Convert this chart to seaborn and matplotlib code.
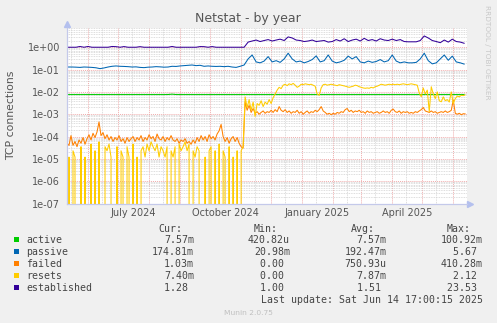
import numpy as np
import pandas as pd
import matplotlib
matplotlib.use("Agg")
import matplotlib.pyplot as plt
import matplotlib.dates as mdates
from matplotlib.ticker import LogLocator, NullFormatter, FuncFormatter
from matplotlib.patches import Rectangle
import seaborn as sns

# ---- data -------------------------------------------------------------
# smooth series sampled every 4 days, spiky series every 2 days
coarse_start = "2024-05-12"
fine_start = "2024-05-11"

active = [
    0.00757, 0.00757, 0.00757, 0.00756, 0.00757, 0.00757, 0.00758, 0.00757, 0.00757, 0.00757,
    0.00757, 0.00757, 0.00756, 0.00757, 0.00757, 0.00757, 0.00757, 0.00758, 0.00757, 0.00757,
    0.00757, 0.00757, 0.00757, 0.00757, 0.00757, 0.00762, 0.00790, 0.00760, 0.00757, 0.00757,
    0.00757, 0.00757, 0.00756, 0.00757, 0.00757, 0.00757, 0.00757, 0.00757, 0.00758, 0.00757,
    0.00757, 0.00757, 0.00757, 0.00757, 0.00757, 0.00757, 0.00757, 0.00757, 0.00757, 0.00757,
    0.00757, 0.00757, 0.00757, 0.00757, 0.00758, 0.00757, 0.00757, 0.00757, 0.00757, 0.00757,
    0.00757, 0.00757, 0.00757, 0.00757, 0.00757, 0.00757, 0.00757, 0.00756, 0.00757, 0.00757,
    0.00757, 0.00757, 0.00757, 0.00757, 0.00757, 0.00757, 0.00757, 0.00757, 0.00757, 0.00757,
    0.00757, 0.00757, 0.00757, 0.00757, 0.00757, 0.00757, 0.00757, 0.00757, 0.00757, 0.00757,
    0.00757, 0.00757, 0.00757, 0.00757, 0.00757, 0.00757, 0.00757, 0.00757, 0.00757, 0.00757,
]

passive = [
    0.13, 0.13, 0.128, 0.125, 0.13, 0.128, 0.125, 0.12, 0.11, 0.118,
    0.13, 0.14, 0.145, 0.14, 0.138, 0.135, 0.13, 0.132, 0.125, 0.122,
    0.128, 0.13, 0.135, 0.132, 0.128, 0.13, 0.14, 0.138, 0.145, 0.15,
    0.155, 0.16, 0.15, 0.155, 0.14, 0.145, 0.14, 0.138, 0.14, 0.135,
    0.14, 0.13, 0.125, 0.14, 0.16, 0.3, 0.45, 0.22, 0.2, 0.24,
    0.38, 0.22, 0.25, 0.21, 0.3, 0.54, 0.3, 0.22, 0.24, 0.2,
    0.23, 0.28, 0.41, 0.22, 0.25, 0.45, 0.24, 0.2, 0.22, 0.26,
    0.4, 0.3, 0.38, 0.22, 0.2, 0.24, 0.21, 0.23, 0.28, 0.22,
    0.25, 0.45, 0.24, 0.2, 0.22, 0.2, 0.2, 0.21, 0.3, 0.54,
    0.25, 0.18, 0.2, 0.3, 0.45, 0.26, 0.4, 0.22, 0.2, 0.175,
]

established = [
    1.0, 1.0, 1.0, 1.08, 1.0, 1.08, 1.0, 1.0, 1.0, 1.0,
    1.0, 1.08, 1.06, 1.0, 1.07, 1.0, 1.0, 1.0, 1.06, 1.0,
    1.0, 1.0, 1.0, 1.0, 1.0, 1.0, 1.08, 1.0, 1.0, 1.0,
    1.0, 1.0, 1.0, 1.07, 1.06, 1.0, 1.07, 1.0, 1.0, 1.0,
    1.0, 1.0, 1.0, 1.0, 1.0, 1.7, 1.9, 2.1, 1.8, 2.0,
    2.2, 1.9, 2.1, 2.3, 2.0, 2.9, 2.6, 2.1, 2.0, 1.8,
    1.9, 2.1, 1.8, 1.9, 2.0, 1.7, 1.8, 2.2, 1.9, 2.4,
    1.8, 2.1, 2.3, 1.9, 2.5, 2.0, 2.2, 1.9, 2.4, 2.1,
    2.0, 2.3, 2.0, 2.2, 1.8, 1.75, 1.75, 1.75, 2.0, 3.2,
    2.6, 2.0, 1.8, 1.6, 2.1, 1.7, 2.3, 1.8, 1.7, 1.5,
]

failed = [
    5e-5, 4e-5, 1.1e-4, 4e-5, 6e-5, 3.5e-5, 7e-5, 5e-5, 9e-5, 4.5e-5,
    8e-5, 1.2e-4, 7e-5, 1.4e-4, 9e-5, 1.6e-4, 4.5e-4, 1.1e-4, 1.5e-4, 8e-5,
    1.2e-4, 7e-5, 1e-4, 6e-5, 9e-5, 7e-5, 1.1e-4, 6e-5, 8e-5, 5e-5,
    9e-5, 6e-5, 8e-5, 1e-4, 6e-5, 9e-5, 7e-5, 1.1e-4, 6e-5, 9e-5,
    7e-5, 1.2e-4, 8e-5, 1e-4, 6e-5, 1.3e-4, 8e-5, 7e-5, 1e-4, 6e-5,
    9e-5, 7e-5, 1.1e-4, 7e-5, 6e-5, 8e-5, 5e-5, 7e-5, 6e-5, 8e-5,
    5e-5, 6e-5, 4.5e-5, 7e-5, 5e-5, 9e-5, 6e-5, 1.1e-4, 7e-5, 1e-4,
    6e-5, 1.2e-4, 8e-5, 1e-4, 7e-5, 1.3e-4, 1.8e-4, 3.5e-4, 1e-4, 6e-5,
    9e-5, 5e-5, 8e-5, 1e-4, 6e-5, 9e-5, 5e-5, 3.5e-5, 3e-5, 3.5e-3,
    1.5e-3, 2.5e-3, 1.2e-3, 1.8e-3, 1.1e-3, 1.3e-3, 1.0e-3, 1.2e-3, 1.4e-3, 1.1e-3,
    1.3e-3, 1.2e-3, 1.5e-3, 1.2e-3, 1.6e-3, 1.3e-3, 2.2e-3, 1.5e-3, 1.3e-3, 1.6e-3,
    1.2e-3, 1.4e-3, 1.1e-3, 1.3e-3, 1.2e-3, 1.5e-3, 1.1e-3, 1.3e-3, 1.0e-3, 1.2e-3,
    1.4e-3, 1.1e-3, 1.3e-3, 1.2e-3, 1.5e-3, 1.3e-3, 1.6e-3, 2.2e-3, 1.4e-3, 1.2e-3,
    1.0e-3, 1.1e-3, 0.95e-3, 1.1e-3, 1.0e-3, 1.2e-3, 1.1e-3, 1.3e-3, 1.2e-3, 1.6e-3,
    1.8e-3, 1.3e-3, 1.5e-3, 1.2e-3, 1.4e-3, 1.3e-3, 1.5e-3, 1.2e-3, 1.3e-3, 1.1e-3,
    1.4e-3, 1.2e-3, 1.3e-3, 1.1e-3, 1.2e-3, 1.3e-3, 1.1e-3, 1.2e-3, 1.4e-3, 1.2e-3,
    1.3e-3, 1.1e-3, 1.5e-3, 1.7e-3, 1.3e-3, 1.2e-3, 1.4e-3, 1.1e-3, 1.3e-3, 1.2e-3,
    1.3e-3, 1.1e-3, 1.2e-3, 1.1e-3, 1.3e-3, 1.2e-3, 1.4e-3, 1.6e-3, 2.0e-3, 1.4e-3,
    1.3e-3, 1.2e-3, 1.4e-3, 1.2e-3, 1.3e-3, 1.1e-3, 1.2e-3, 1.3e-3, 1.2e-3, 1.4e-3,
    1.2e-3, 1.3e-3, 1.5e-3, 4.3e-3, 1.1e-3, 1.0e-3, 1.1e-3, 0.95e-3, 1.05e-3, 1.03e-3,
]

resets = [
    0, 1.2e-5, 0, 2.3e-5, 1.2e-5, 0, 0, 3.5e-5, 0, 1.2e-5,
    0, 0, 4.6e-5, 0, 2.3e-5, 0, 5.8e-5, 0, 0, 3.5e-5,
    2.3e-5, 4.6e-5, 1.2e-5, 0, 0, 3.5e-5, 0, 2.3e-5, 1.2e-5, 0,
    3.5e-5, 1.2e-5, 0, 4.6e-5, 0, 1.2e-5, 0, 2.3e-5, 3.5e-5, 1.2e-5,
    4.6e-5, 2.3e-5, 5.8e-5, 3.5e-5, 2.3e-5, 4.6e-5, 1.2e-5, 3.5e-5, 2.3e-5, 1.2e-5,
    3.5e-5, 0, 2.3e-5, 1.2e-5, 3.5e-5, 0, 4.6e-5, 2.3e-5, 3.5e-5, 5.8e-5,
    2.3e-5, 4.6e-5, 0, 2.3e-5, 1.2e-5, 3.5e-5, 2.3e-5, 0, 0, 1.2e-5,
    0, 2.3e-5, 3.5e-5, 0, 2.3e-5, 0, 4.6e-5, 0, 2.3e-5, 1.2e-5,
    0, 3.5e-5, 0, 1.2e-5, 0, 2.3e-5, 0, 2.3e-5, 3.5e-5, 6e-3,
    2e-3, 4.5e-3, 1.5e-3, 3.5e-3, 8e-4, 3e-3, 2.5e-3, 4e-3, 2.2e-3, 3.5e-3,
    2.8e-3, 4.5e-3, 3e-3, 5.5e-3, 8e-3, 0.012, 0.016, 0.014, 0.02, 0.022,
    0.019, 0.023, 0.021, 0.024, 0.02, 0.016, 0.018, 0.022, 0.021, 0.023,
    0.022, 0.021, 0.022, 0.02, 0.018, 0.008, 0.007, 0.015, 0.021, 0.022,
    0.02, 0.021, 0.022, 0.021, 0.02, 0.019, 0.021, 0.02, 0.019, 0.018,
    0.017, 0.016, 0.017, 0.018, 0.02, 0.019, 0.017, 0.016, 0.015, 0.0145,
    0.015, 0.0145, 0.016, 0.015, 0.017, 0.018, 0.02, 0.022, 0.021, 0.02,
    0.021, 0.022, 0.021, 0.022, 0.021, 0.022, 0.021, 0.022, 0.023, 0.022,
    0.021, 0.022, 0.023, 0.022, 0.021, 0.02, 0.009, 0.006, 0.015, 0.008,
    0.012, 0.0013, 0.017, 0.008, 0.005, 0.01, 0.004, 0.0036, 0.006, 0.004,
    0.0045, 0.0035, 0.01, 0.003, 0.005, 0.0065, 0.006, 0.007, 0.0068, 0.0074,
]

series_names = ["active", "passive", "failed", "resets", "established"]
series_colors = ["#00CC00", "#0066B3", "#FF8000", "#FFCC00", "#330099"]
cur_vals = ["7.57m", "174.81m", "1.03m", "7.40m", "1.28 "]
min_vals = ["420.82u", "20.98m", "0.00 ", "0.00 ", "1.00 "]
avg_vals = ["7.57m", "192.47m", "750.93u", "7.87m", "1.51 "]
max_vals = ["100.92m", "5.67 ", "410.28m", "2.12 ", "23.53 "]
column_heads = ["Cur:", "Min:", "Avg:", "Max:"]

tick_labels = ["July 2024", "October 2024", "January 2025", "April 2025"]
tick_dates = ["2024-07-16", "2024-10-16", "2025-01-16", "2025-04-16"]
range_start = "2024-05-10 17:00"
range_end = "2025-06-14 17:00"

# ---- figure -----------------------------------------------------------
W, H = 497, 323
sns.set_theme(style="white")
plt.rcParams["font.family"] = ["DejaVu Sans"]

fig = plt.figure(figsize=(W / 100, H / 100), dpi=100, facecolor="#F0F0F0")
L, R, T, B = 66.7, 467.0, 27.7, 203.5
ax = fig.add_axes([L / W, 1 - B / H, (R - L) / W, (B - T) / H])
ax.set_facecolor("white")

coarse_dates = pd.date_range(coarse_start, periods=len(active), freq="4D")
fine_dates = pd.date_range(fine_start, periods=len(failed), freq="2D")
series = {
    "active": (coarse_dates, active),
    "passive": (coarse_dates, passive),
    "failed": (fine_dates, failed),
    "resets": (fine_dates, resets),
    "established": (coarse_dates, established),
}

for name, color in zip(series_names, series_colors):
    d, v = series[name]
    df = pd.DataFrame({"date": d, "value": v})
    sns.lineplot(data=df, x="date", y="value", ax=ax, color=color, lw=0.75,
                 estimator=None, legend=False)

ax.set_yscale("log", nonpositive="clip")
ax.set_ylim(1e-7, 7.5)
ax.set_xlim(pd.Timestamp(range_start), pd.Timestamp(range_end))
ax.set_xlabel("")
ax.set_ylabel("")

# grid: red month / decade lines, grey minor lines
ax.xaxis.set_major_locator(mdates.MonthLocator())
ax.xaxis.set_major_formatter(NullFormatter())
ax.xaxis.set_minor_locator(mdates.DayLocator(bymonthday=15))
ax.xaxis.set_minor_formatter(NullFormatter())
ax.yaxis.set_major_locator(LogLocator(base=10, numticks=20))
ax.yaxis.set_minor_locator(LogLocator(base=10, subs=np.arange(2, 10), numticks=20))
ax.yaxis.set_major_formatter(FuncFormatter(lambda v, p: f"{v:.0e}"))
ax.yaxis.set_minor_formatter(NullFormatter())
ax.grid(which="minor", color="#d2d2d2", ls=(0, (1, 1)), lw=0.6)
ax.grid(which="major", color="#f0acac", ls=(0, (1, 1)), lw=0.7)
ax.set_axisbelow(True)

ax.tick_params(axis="y", which="both", length=0, labelsize=7, labelcolor="#555555", pad=4.6)
ax.tick_params(axis="x", which="major", length=2.5, width=0.8, color="#e89090", direction="out")
ax.tick_params(axis="x", which="minor", length=0)

for s in ("top", "right"):
    ax.spines[s].set_visible(False)
for s in ("left", "bottom"):
    ax.spines[s].set_color("#c4c9ea")
    ax.spines[s].set_linewidth(0.9)

# axis arrows
ax.plot([0], [1 + 4 / (B - T)], marker="^", ms=3.8, color="#b4c0ee",
        transform=ax.transAxes, clip_on=False)
ax.plot([1 + 3.5 / (R - L)], [0], marker=">", ms=3.8, color="#b4c0ee",
        transform=ax.transAxes, clip_on=False)

# date labels between month lines
for d, t in zip(tick_dates, tick_labels):
    ax.text(mdates.date2num(pd.Timestamp(d)), -9 / (B - T), t, transform=ax.get_xaxis_transform(),
            ha="center", va="center", fontsize=7, color="#555555")

def fx(px):
    return px / W

def fy(py):
    return 1 - py / H

fig.text(fx(248), fy(18.7), "Netstat - by year", ha="center", va="center",
         fontsize=9, color="#555555")
fig.text(fx(11.2), fy(115.5), "TCP connections", rotation=90, ha="center", va="center",
         fontsize=7.8, color="#555555")
fig.text(fx(486.7), fy(52.5), "RRDTOOL / TOBI OETIKER", rotation=-90, ha="center",
         va="center", fontsize=5.3, color="#c8c8c8")

# legend table
mono = "DejaVu Sans Mono"
fs = 7.1
txt = "#444444"
for head, x in zip(column_heads, [158, 254, 351, 447]):
    fig.text(fx(x), fy(231.7), head, ha="left", va="baseline", family=mono, size=fs, color=txt)

col_right = [194, 290, 386.7, 482.7]
for k, (name, color) in enumerate(zip(series_names, series_colors)):
    base = 243 + 12 * k
    fig.patches.append(Rectangle((fx(14), fy(base - 1)), 5.3 / W, 5.3 / H,
                                 transform=fig.transFigure, facecolor=color,
                                 edgecolor="none"))
    fig.text(fx(26), fy(base), name, ha="left", va="baseline", family=mono, size=fs, color=txt)
    for vals, xr in zip([cur_vals, min_vals, avg_vals, max_vals], col_right):
        fig.text(fx(xr), fy(base), vals[k], ha="right", va="baseline", family=mono,
                 size=fs, color=txt)

fig.text(fx(482.7), fy(303), "Last update: Sat Jun 14 17:00:15 2025", ha="right",
         va="baseline", family=mono, size=fs, color=txt)
fig.text(fx(248), fy(315), "Munin 2.0.75", ha="center", va="baseline", fontsize=5.4,
         color="#c0c0c0")

fig.savefig("out.png", dpi=100, facecolor=fig.get_facecolor())
